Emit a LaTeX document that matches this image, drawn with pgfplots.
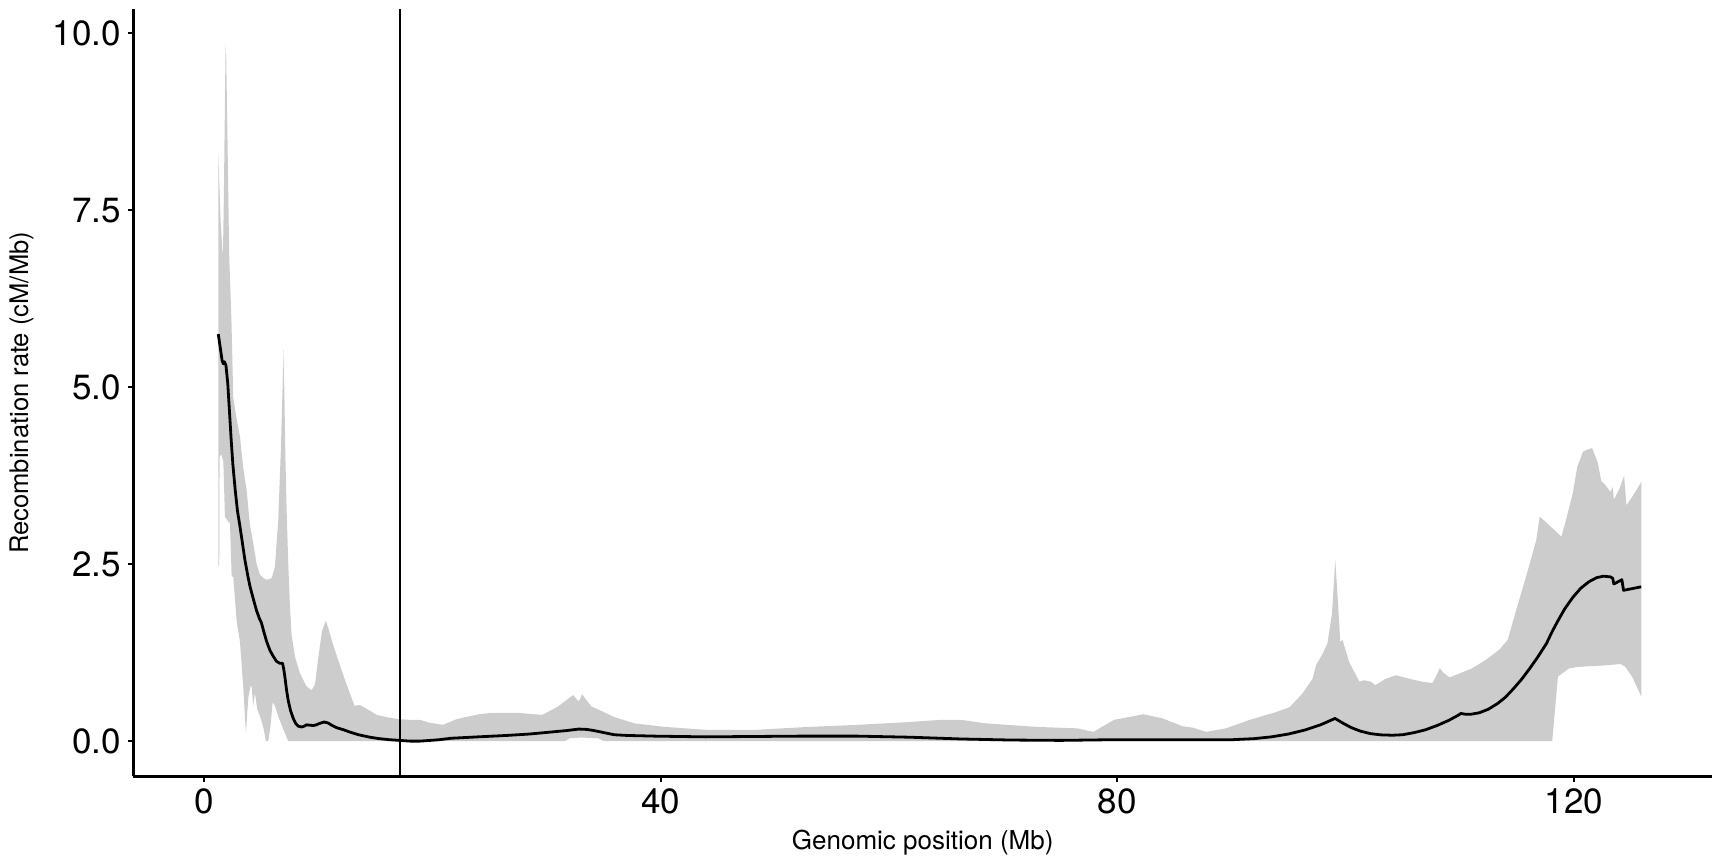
\documentclass[border=0pt]{standalone}
\usepackage{fontspec}
\setmainfont{TeX Gyre Heros}
\usepackage{pgfplots}
\pgfplotsset{compat=1.18}
\usepgfplotslibrary{fillbetween}
\begin{document}
\begin{tikzpicture}
\begin{axis}[
  scale only axis, width=789.3pt, height=383.6pt,
  xmin=-6.22, xmax=132.1, ymin=-0.50, ymax=10.34,
  axis lines=left, axis line style={-, line width=1.1pt, black},
  xtick={0,40,80,120}, ytick={0,2.5,5,7.5,10},
  yticklabel style={/pgf/number format/.cd, fixed, fixed zerofill, precision=1},
  tick align=outside, major tick length=2.8pt,
  tick style={line width=1.0pt, black},
  ticklabel style={font=\fontsize{17.5}{20}\selectfont},
  /pgf/number format/assume math mode=true,
  xlabel={Genomic position (Mb)},
  ylabel={Recombination rate (cM/Mb)},
  xlabel style={font=\fontsize{13}{15}\selectfont, at={([yshift=-36.4pt]rel axis cs:0.5,0)}, anchor=base},
  ylabel style={font=\fontsize{12.8}{15}\selectfont, at={([xshift=-49.7pt]rel axis cs:0,0.5)}, anchor=south, inner sep=0pt},
]
\addplot[name path=up, draw=none, forget plot] coordinates {
(1.22,8.33) (1.30,7.9) (1.42,7.36) (1.62,6.82) (1.70,7.6) (1.86,9.86) (1.92,9.6)
(2.00,8.77) (2.17,6.89) (2.37,5.95) (2.53,4.85) (2.83,4.55) (3.12,4.30) (3.41,3.85)
(3.70,3.55) (3.99,3.05) (4.28,2.80) (4.58,2.50) (4.87,2.35) (5.20,2.30) (5.45,2.28)
(5.89,2.30) (6.18,2.46) (6.47,3.12) (6.71,4.16) (6.85,5.00) (6.91,5.53) (7.00,5.0)
(7.10,4.0) (7.20,3.3) (7.35,2.50) (7.50,1.90) (7.64,1.50) (7.94,1.19) (8.37,0.96)
(8.96,0.77) (9.40,0.72) (9.69,0.80) (10.0,1.20) (10.3,1.55) (10.64,1.70) (10.85,1.60)
(11.3,1.35) (11.9,1.06) (12.5,0.78) (13.16,0.50) (13.62,0.51) (14.5,0.43) (15.1,0.37)
(16.2,0.33) (17.1,0.31) (18.0,0.30) (18.9,0.30) (19.7,0.26) (20.9,0.23) (22.1,0.31)
(22.9,0.34) (24.1,0.38) (25.2,0.40) (27.4,0.40) (29.6,0.37) (31.0,0.49) (32.3,0.65)
(32.8,0.56) (33.1,0.66) (33.9,0.49) (35.0,0.41) (35.9,0.34) (37.7,0.25) (40.4,0.20)
(43.9,0.16) (48.4,0.16) (52.9,0.20) (57.3,0.23) (61.8,0.27) (64.5,0.30) (66.3,0.30)
(68.5,0.25) (73.0,0.20) (76.5,0.18) (77.9,0.13) (79.7,0.30) (82.3,0.38) (83.97,0.32)
(85.7,0.21) (86.6,0.19) (87.8,0.13) (89.5,0.18) (91.6,0.30) (93.9,0.41) (95.1,0.48)
(96.2,0.67) (97.1,0.88) (97.4,1.07) (98.0,1.24) (98.4,1.38) (98.8,1.80) (99.09,2.56)
(99.35,1.90) (99.53,1.40) (99.73,1.43) (100.3,1.12) (101.2,0.84) (101.6,0.86)
(102.2,0.84) (102.6,0.79) (103.5,0.88) (104.4,0.93) (105.6,0.88) (106.7,0.84)
(107.6,0.82) (107.9,0.91) (108.25,1.03) (108.6,0.96) (109.1,0.90) (110.2,0.97)
(111.1,1.03) (112.3,1.15) (113.45,1.29) (114.2,1.43) (114.9,1.83) (115.8,2.32)
(116.7,2.84) (117.0,3.17) (117.5,3.10) (118.3,2.98) (118.9,2.89) (119.3,3.12)
(119.9,3.50) (120.3,3.88) (120.8,4.09) (121.2,4.12) (121.6,4.14) (122.1,3.93)
(122.4,3.67) (122.65,3.64) (123.2,3.52) (123.4,3.59) (123.5,3.41) (124.0,3.57)
(124.4,3.75) (124.6,3.33) (125.3,3.50) (125.9,3.66)
};
\addplot[name path=lo, draw=none, forget plot] coordinates {
(1.22,2.47) (1.30,2.47) (1.33,4.02) (1.50,4.05) (1.66,3.95) (1.80,3.17) (2.09,3.10)
(2.24,3.08) (2.39,2.33) (2.53,2.32) (2.83,1.69) (3.12,1.40) (3.41,0.75) (3.64,0.11)
(3.85,0.62) (4.05,0.78) (4.14,0.77) (4.28,0.50) (4.43,0.68) (4.63,0.45) (4.87,0.35)
(5.16,0.20) (5.39,0.0) (5.60,0.0) (5.80,0.22) (5.98,0.55) (6.18,0.50) (6.47,0.35)
(6.91,0.17) (7.35,0.0) (31.6,0.0) (32.0,0.04) (33.0,0.05) (34.5,0.04) (35.0,0.0)
(118.1,0.0) (118.6,0.91) (119.0,0.96) (119.6,1.03) (120.5,1.05) (121.6,1.06)
(122.8,1.07) (124.1,1.09) (124.5,1.05) (125.1,0.91) (125.9,0.63)
};
\addplot[fill=black!20, draw=none, forget plot] fill between[of=up and lo];
\addplot[black, line width=1.4pt, line join=round] coordinates {
(1.22,5.75) (1.55,5.38) (1.66,5.33) (1.75,5.36) (1.89,5.31) (2.05,5.05) (2.2,4.65)
(2.35,4.25) (2.5,3.9) (2.7,3.55) (2.9,3.25) (3.12,3.03) (3.35,2.78) (3.55,2.56)
(3.8,2.34) (3.99,2.19) (4.3,2.0) (4.58,1.84) (4.8,1.74) (5.0,1.67) (5.2,1.55)
(5.45,1.41) (5.75,1.28) (6.03,1.20) (6.3,1.13) (6.6,1.10) (6.85,1.10) (6.95,1.02)
(7.06,0.90) (7.2,0.72) (7.35,0.57) (7.55,0.43) (7.79,0.32) (8.0,0.25) (8.23,0.21)
(8.5,0.20) (8.67,0.205) (8.96,0.23) (9.2,0.225) (9.55,0.22) (9.8,0.23) (10.1,0.25)
(10.5,0.27) (10.85,0.255) (11.2,0.22) (11.58,0.19) (12.2,0.16) (12.7,0.13)
(13.5,0.09) (14.5,0.055) (15.3,0.035) (16.2,0.02) (17.1,0.01) (18.0,0.0) (18.9,0.0)
(19.8,0.01) (20.6,0.02) (21.6,0.04) (24.0,0.06) (26.5,0.08) (28.5,0.10) (30.5,0.13)
(31.8,0.15) (32.8,0.17) (33.5,0.165) (34.1,0.15) (35.0,0.12) (35.9,0.09) (37.0,0.08)
(39.5,0.07) (43.9,0.06) (48.0,0.065) (52.0,0.07) (57.3,0.07) (61.8,0.055) (66.3,0.03)
(70.7,0.015) (75.0,0.01) (79.7,0.02) (85.0,0.02) (87.2,0.02) (90.1,0.02) (92.0,0.035)
(93.5,0.06) (95.0,0.10) (96.5,0.16) (97.8,0.23) (99.07,0.32) (99.8,0.25) (100.5,0.19)
(101.3,0.14) (102.2,0.105) (103.1,0.088) (104.1,0.083) (105.0,0.09) (106.0,0.12)
(107.0,0.16) (108.0,0.22) (109.0,0.29) (109.8,0.36) (110.1,0.39) (110.5,0.38)
(111.0,0.38) (111.7,0.40) (112.5,0.45) (113.3,0.53) (114.0,0.62) (114.7,0.74)
(115.4,0.87) (116.1,1.02) (116.8,1.18) (117.4,1.33) (117.6,1.38) (118.1,1.55)
(118.6,1.70) (119.2,1.87) (119.9,2.03) (120.6,2.16) (121.3,2.25) (122.0,2.31)
(122.6,2.33) (123.2,2.32) (123.4,2.30) (123.5,2.22) (124.2,2.28) (124.35,2.13)
(125.9,2.18)
};
\addplot[black, line width=1.35pt] coordinates {(17.13,-0.50) (17.13,10.34)};
\end{axis}
\pgfresetboundingbox
\path (current axis.south west) ++(-66.7pt,-41.75pt) rectangle ++(857pt,430pt);
\end{tikzpicture}
\end{document}
